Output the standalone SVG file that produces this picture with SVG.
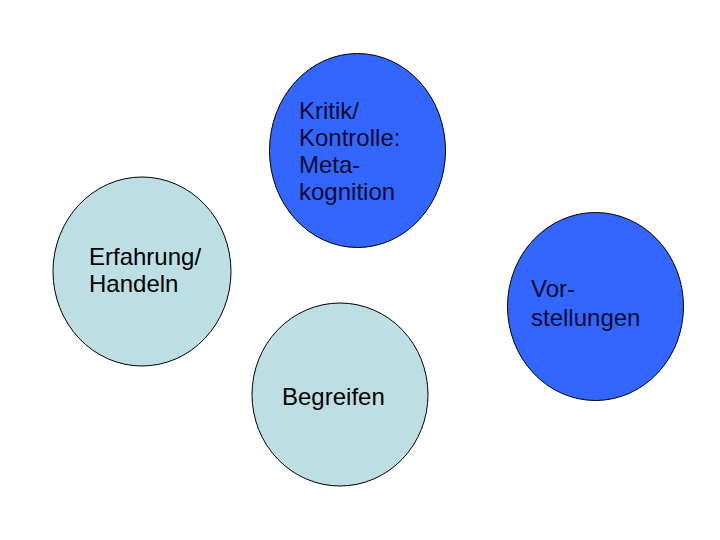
<svg xmlns="http://www.w3.org/2000/svg" width="720" height="540" viewBox="0 0 720 540">
<style>
.dark{fill:#3366ff;stroke:#000;stroke-width:1}
.light{fill:#bddfe3;stroke:#000;stroke-width:1}
text{font-family:"Liberation Sans",Arial,sans-serif;font-size:24px}
.td{fill:#0a0a30}
.tl{fill:#000}
</style>
<rect width="720" height="540" fill="#fff"/>
<g id="connectors"></g>
<g id="metakognition">
<ellipse class="dark" cx="357.5" cy="150.5" rx="88" ry="97"/>
<text class="td" x="299"><tspan x="299" y="119">Kritik/</tspan><tspan x="299" y="146">Kontrolle:</tspan><tspan x="299" y="173">Meta-</tspan><tspan x="299" y="200">kognition</tspan></text>
</g>
<g id="erfahrung">
<ellipse class="light" cx="142" cy="271.5" rx="89" ry="94.5"/>
<text class="tl"><tspan x="89" y="265">Erfahrung/</tspan><tspan x="89" y="292">Handeln</tspan></text>
</g>
<g id="vorstellungen">
<ellipse class="dark" cx="595.5" cy="306.5" rx="88" ry="94"/>
<text class="td"><tspan x="531" y="297">Vor-</tspan><tspan x="531" y="326">stellungen</tspan></text>
</g>
<g id="begreifen">
<ellipse class="light" cx="340" cy="394.5" rx="88" ry="91.5"/>
<text class="tl" x="282" y="405">Begreifen</text>
</g>
</svg>
